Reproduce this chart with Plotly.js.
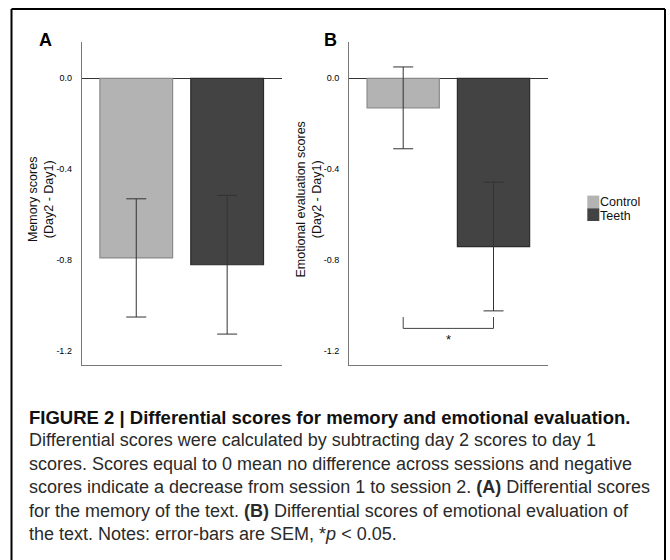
<!DOCTYPE html>
<html><head><meta charset="utf-8">
<script src="https://cdn.plot.ly/plotly-3.0.1.min.js"></script>
<style>html,body{margin:0;padding:0;background:#fff}#chart{width:670px;height:560px}</style>
</head><body><div id="chart"></div>
<script>
// ---- data ----
const groups = ['Control', 'Teeth'];
const memoryMeans = [-0.79, -0.82];
const memorySEM = [0.26, 0.305];
const emotionMeans = [-0.13, -0.74];
const emotionSEM = [0.18, 0.283];
const yTickVals = [0, -0.4, -0.8, -1.2];
const yTickText = ['0.0', '-0.4', '-0.8', '-1.2'];
const panelLabels = ['A', 'B'];
const yTitles = ['Memory scores<br>(Day2 - Day1)', 'Emotional evaluation scores<br>(Day2 - Day1)'];
const sigPair = ['Control', 'Teeth'];
const sigBracketY = [-1.05, -1.10];
const sigMark = '*';
const captionLines = [
  '<b>FIGURE 2 | Differential scores for memory and emotional evaluation.</b>',
  'Differential scores were calculated by subtracting day 2 scores to day 1',
  'scores. Scores equal to 0 mean no difference across sessions and negative',
  'scores indicate a decrease from session 1 to session 2. <b>(A)</b> Differential scores',
  'for the memory of the text. <b>(B)</b> Differential scores of emotional evaluation of',
  'the text. Notes: error-bars are SEM, *<i>p</i> &lt; 0.05.'
];

// ---- styles ----
const groupColors = ['#b3b3b3', '#434343'];
const groupEdge = ['#8a8a8a', '#2b2b2b'];
const W = 670, H = 560;
const px = v => v / W;
const py = v => 1 - v / H;
const FONT = 'Liberation Sans, Arial, sans-serif';

function barTrace(means, sem, xa, ya) {
  return {
    type: 'bar', x: groups, y: means, xaxis: xa, yaxis: ya, width: 0.8,
    marker: {color: groupColors, line: {color: groupEdge, width: 1.2}},
    error_y: {type: 'data', array: sem, visible: true, color: '#333', thickness: 1, width: 10},
    hoverinfo: 'skip', showlegend: false
  };
}
const data = [
  barTrace(memoryMeans, memorySEM, 'x', 'y'),
  barTrace(emotionMeans, emotionSEM, 'x2', 'y2'),
  {
    type: 'scatter', mode: 'lines', xaxis: 'x2', yaxis: 'y2',
    x: [sigPair[0], sigPair[0], sigPair[1], sigPair[1]],
    y: [sigBracketY[0], sigBracketY[1], sigBracketY[1], sigBracketY[0]],
    line: {color: '#444', width: 1}, hoverinfo: 'skip', showlegend: false
  }
];

function xAxis(dom, anchor) {
  return {domain: dom, anchor: anchor, type: 'category', range: [-0.6, 1.6],
    showticklabels: false, ticks: '', showgrid: false, zeroline: false,
    showline: true, linecolor: '#777', linewidth: 1, fixedrange: true};
}
function yAxis(anchor) {
  return {domain: [py(365), py(41.7)], anchor: anchor, range: [-1.261, 0.161],
    tickmode: 'array', tickvals: yTickVals, ticktext: yTickText,
    tickfont: {size: 9, color: '#000', family: FONT}, ticks: '', ticklabelstandoff: 7,
    showgrid: false, zeroline: true, zerolinecolor: '#333', zerolinewidth: 1,
    showline: true, linecolor: '#777', linewidth: 1, fixedrange: true};
}

const annotations = [];
panelLabels.forEach((t, i) => annotations.push({
  xref: 'paper', yref: 'paper', x: px(i === 0 ? 45 : 330), y: py(40), text: '<b>' + t + '</b>',
  showarrow: false, xanchor: 'center', yanchor: 'middle', font: {size: 18, color: '#000', family: FONT}
}));
// y axis titles
yTitles.forEach((t, i) => annotations.push({
  xref: 'paper', yref: 'paper', x: px(i === 0 ? 41 : 308.5), y: py(200), text: t, textangle: -90,
  showarrow: false, xanchor: 'center', yanchor: 'middle', align: 'center',
  font: {size: 12.5, color: '#111', family: FONT}
}));
annotations.push({xref: 'x2', yref: 'y2', x: 0.5, y: -1.147, text: sigMark, showarrow: false,
  xanchor: 'center', yanchor: 'middle', font: {size: 13, color: '#111', family: FONT}});
// legend
const shapes = [];
groups.forEach((g, i) => {
  shapes.push({type: 'rect', xref: 'paper', yref: 'paper', x0: px(587.3), x1: px(599.3),
    y0: py(208.3 + 12.7 * i), y1: py(195.6 + 12.7 * i), fillcolor: groupColors[i], line: {width: 0}});
  annotations.push({xref: 'paper', yref: 'paper', x: px(599), y: py(201 + 15 * i), text: g,
    height: 11, borderpad: 0,
    showarrow: false, xanchor: 'left', yanchor: 'middle', font: {size: 12.5, color: '#111', family: FONT}});
});
// caption
captionLines.forEach((t, i) => annotations.push({
  xref: 'paper', yref: 'paper', x: px(27), y: py(423.3 + 23.4 * i - 6.3), text: t,
  showarrow: false, xanchor: 'left', yanchor: 'middle', align: 'left',
  font: {size: i === 0 ? 18.5 : 18, color: i === 0 ? '#111' : '#2a2a2a', family: FONT}
}));
// frame
[[11.5, 9, 11.5, 560], [11.5, 9, 665, 9], [665, 9, 665, 560]].forEach(s => shapes.push({
  type: 'line', xref: 'paper', yref: 'paper', x0: px(s[0]), y0: py(s[1]), x1: px(s[2]), y1: py(s[3]),
  line: {color: '#000', width: 2}
}));

const layout = {
  width: W, height: H, margin: {l: 0, r: 0, t: 0, b: 0},
  paper_bgcolor: '#fff', plot_bgcolor: 'rgba(0,0,0,0)', showlegend: false,
  font: {family: FONT, color: '#111'},
  xaxis: xAxis([px(81.7), px(281.7)], 'y'),
  yaxis: yAxis('x'),
  xaxis2: xAxis([px(349), px(547.7)], 'y2'),
  yaxis2: yAxis('x2'),
  annotations: annotations, shapes: shapes
};
Plotly.newPlot('chart', data, layout, {displayModeBar: false, staticPlot: true});
</script></body></html>
